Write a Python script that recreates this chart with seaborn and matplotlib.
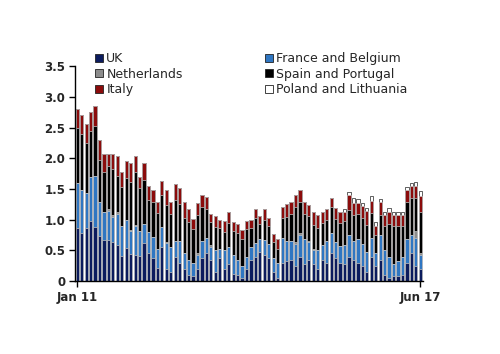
import numpy as np
import pandas as pd
import seaborn as sns
import matplotlib.pyplot as plt
from matplotlib.patches import Patch

# monthly, Jan 2011 .. Jun 2017
months = pd.date_range("2011-01-01", "2017-06-01", freq="MS")

uk = [0.86, 0.79, 0.86, 0.98, 0.88, 0.73, 0.67, 0.67, 0.63, 0.58,
      0.41, 0.54, 0.44, 0.42, 0.41, 0.62, 0.45, 0.38, 0.22, 0.55,
      0.20, 0.15, 0.40, 0.30, 0.20, 0.10, 0.08, 0.20, 0.38, 0.45,
      0.35, 0.15, 0.38, 0.20, 0.28, 0.12, 0.10, 0.05, 0.20, 0.35,
      0.40, 0.48, 0.42, 0.38, 0.15, 0.05, 0.30, 0.33, 0.35, 0.25,
      0.40, 0.28, 0.35, 0.28, 0.20, 0.35, 0.30, 0.45, 0.38, 0.30,
      0.28, 0.40, 0.35, 0.30, 0.25, 0.15, 0.40, 0.25, 0.35, 0.10,
      0.05, 0.08, 0.08, 0.10, 0.30, 0.45, 0.25, 0.20]
france = [0.74, 0.70, 0.57, 0.72, 0.83, 0.55, 0.46, 0.47, 0.42, 0.52,
          0.49, 0.46, 0.38, 0.47, 0.40, 0.31, 0.35, 0.33, 0.30, 0.33,
          0.42, 0.40, 0.25, 0.35, 0.25, 0.25, 0.22, 0.23, 0.28, 0.25,
          0.20, 0.35, 0.15, 0.30, 0.28, 0.30, 0.25, 0.20, 0.20, 0.20,
          0.22, 0.20, 0.25, 0.22, 0.22, 0.25, 0.40, 0.32, 0.30, 0.35,
          0.35, 0.40, 0.28, 0.22, 0.30, 0.23, 0.35, 0.33, 0.25, 0.27,
          0.30, 0.35, 0.30, 0.38, 0.35, 0.32, 0.30, 0.20, 0.40, 0.40,
          0.35, 0.20, 0.25, 0.30, 0.38, 0.30, 0.45, 0.22]
netherlands = [0.00, 0.00, 0.00, 0.00, 0.00, 0.00, 0.00, 0.03, 0.03, 0.02,
               0.00, 0.00, 0.02, 0.03, 0.00, 0.00, 0.00, 0.00, 0.00, 0.00,
               0.02, 0.00, 0.00, 0.00, 0.00, 0.00, 0.00, 0.02, 0.00, 0.00,
               0.03, 0.00, 0.00, 0.00, 0.00, 0.00, 0.00, 0.00, 0.00, 0.00,
               0.00, 0.00, 0.00, 0.00, 0.00, 0.00, 0.00, 0.00, 0.00, 0.03,
               0.03, 0.00, 0.03, 0.02, 0.00, 0.00, 0.00, 0.00, 0.00, 0.00,
               0.00, 0.00, 0.00, 0.00, 0.00, 0.00, 0.00, 0.00, 0.00, 0.00,
               0.00, 0.00, 0.00, 0.00, 0.00, 0.00, 0.12, 0.03]
spain = [0.90, 0.91, 0.82, 0.75, 0.81, 0.70, 0.65, 0.71, 0.74, 0.59,
         0.63, 0.68, 0.78, 0.86, 0.70, 0.71, 0.52, 0.57, 0.59, 0.52,
         0.60, 0.55, 0.67, 0.61, 0.58, 0.61, 0.55, 0.62, 0.54, 0.47,
         0.38, 0.38, 0.33, 0.30, 0.39, 0.40, 0.43, 0.43, 0.45, 0.31,
         0.40, 0.25, 0.33, 0.30, 0.27, 0.23, 0.33, 0.40, 0.44, 0.58,
         0.50, 0.42, 0.40, 0.40, 0.37, 0.37, 0.35, 0.42, 0.38, 0.38,
         0.40, 0.40, 0.42, 0.42, 0.42, 0.45, 0.41, 0.30, 0.33, 0.40,
         0.53, 0.62, 0.56, 0.50, 0.60, 0.60, 0.53, 0.67]
italy = [0.30, 0.31, 0.31, 0.31, 0.33, 0.32, 0.29, 0.19, 0.25, 0.32,
         0.25, 0.28, 0.30, 0.25, 0.18, 0.29, 0.23, 0.20, 0.17, 0.23,
         0.25, 0.18, 0.26, 0.25, 0.26, 0.22, 0.16, 0.20, 0.20, 0.20,
         0.13, 0.18, 0.13, 0.18, 0.18, 0.15, 0.15, 0.15, 0.13, 0.14,
         0.15, 0.13, 0.18, 0.13, 0.13, 0.15, 0.18, 0.20, 0.20, 0.20,
         0.20, 0.18, 0.18, 0.20, 0.20, 0.18, 0.18, 0.15, 0.18, 0.18,
         0.15, 0.25, 0.20, 0.17, 0.20, 0.22, 0.20, 0.15, 0.20, 0.18,
         0.20, 0.17, 0.18, 0.17, 0.20, 0.20, 0.20, 0.27]
poland = [0.0] * 60 + [0.05, 0.05, 0.08, 0.06, 0.05, 0.05, 0.08, 0.06, 0.05,
                       0.05, 0.06, 0.05, 0.05, 0.05, 0.05, 0.05, 0.06, 0.08]

names = ["UK", "France and Belgium", "Netherlands", "Spain and Portugal",
         "Italy", "Poland and Lithuania"]
colors = ["#0c1c5e", "#2f76c2", "#8c8c8c", "#000000", "#8b0b0b", "#ffffff"]

sns.set_style("ticks")
plt.rcParams["font.family"] = ["DejaVu Sans"]

fig = plt.figure(figsize=(5.0, 3.54), dpi=100)
ax = fig.add_axes([0.150, 0.206, 0.695, 0.607])

layers = np.array([uk, france, netherlands, spain, italy, poland])
stacked = np.cumsum(layers, axis=0)
x = np.arange(len(months))

# draw the running totals from the top down so each layer shows its slice
for k in range(len(names) - 1, -1, -1):
    edge = "#222222" if k == 5 else "#c4c4c4"
    sns.barplot(x=x, y=stacked[k], color=colors[k], saturation=1,
                width=0.72, edgecolor=edge, linewidth=0.5,
                errorbar=None, ax=ax)

ax.set_xlim(-0.5, len(months) - 0.5)
ax.set_ylim(0, 3.5)
ax.set_yticks(np.arange(0, 3.51, 0.5))
ax.set_yticklabels(["0", "0.5", "1.0", "1.5", "2.0", "2.5", "3.0", "3.5"],
                   fontweight="bold", fontsize=8.5)
ax.set_xticks([0, len(months) - 1])
ax.set_xticklabels(["Jan 11", "Jun 17"], fontweight="bold", fontsize=8.5)
ax.set_xlabel("")
ax.set_ylabel("")
ax.tick_params(axis="both", direction="out", length=4, width=1,
               color="black", pad=3)
sns.despine(ax=ax)
for s in ["left", "bottom"]:
    ax.spines[s].set_color("black")
    ax.spines[s].set_linewidth(1)

order = [0, 2, 4, 1, 3, 5]
handles = [Patch(facecolor=colors[i], edgecolor="#222222", linewidth=0.6,
                 label=names[i]) for i in order]
fig.legend(handles=handles, loc="upper left", bbox_to_anchor=(0.190, 0.853),
           ncol=2, frameon=False, fontsize=9, handlelength=0.6,
           handleheight=0.6, handletextpad=0.3, labelspacing=0.2,
           columnspacing=6.6, borderpad=0, borderaxespad=0)

fig.savefig("out.png", dpi=100)
